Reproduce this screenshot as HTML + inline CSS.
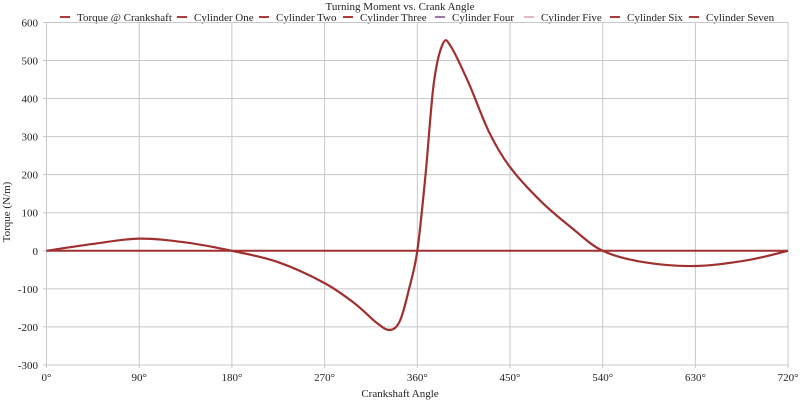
<!DOCTYPE html>
<html><head><meta charset="utf-8"><style>
body{margin:0;background:#fff;}
svg text{font-family:"Liberation Serif",serif;fill:#222;}
</style></head><body>
<svg id="s" width="800" height="400" viewBox="0 0 800 400" xmlns="http://www.w3.org/2000/svg">
<text x="400" y="10" font-size="11" text-anchor="middle">Turning Moment vs. Crank Angle</text>
<g font-size="11">
<line x1="60" y1="17" x2="70" y2="17" stroke="#b03a3a" stroke-width="2"/><text x="77" y="21">Torque @ Crankshaft</text>
<line x1="177" y1="17" x2="187" y2="17" stroke="#b03a3a" stroke-width="2"/><text x="194" y="21">Cylinder One</text>
<line x1="259" y1="17" x2="269" y2="17" stroke="#b03a3a" stroke-width="2"/><text x="276" y="21">Cylinder Two</text>
<line x1="343" y1="17" x2="353" y2="17" stroke="#b03a3a" stroke-width="2"/><text x="360" y="21">Cylinder Three</text>
<line x1="435" y1="17" x2="445" y2="17" stroke="#9a7aa8" stroke-width="2"/><text x="452" y="21">Cylinder Four</text>
<line x1="524" y1="17" x2="534" y2="17" stroke="#e0b8c0" stroke-width="2"/><text x="541" y="21">Cylinder Five</text>
<line x1="610" y1="17" x2="620" y2="17" stroke="#b03a3a" stroke-width="2"/><text x="627" y="21">Cylinder Six</text>
<line x1="689" y1="17" x2="699" y2="17" stroke="#b03a3a" stroke-width="2"/><text x="706" y="21">Cylinder Seven</text>
</g>
<g id="grid" stroke="#c8c8c8" stroke-width="1"></g>
<g id="lab" font-size="11"></g>
<text x="400" y="397" font-size="11" text-anchor="middle">Crankshaft Angle</text>
<text transform="translate(10,212) rotate(-90)" font-size="11" text-anchor="middle">Torque (N/m)</text>
<line x1="46.5" y1="250.8" x2="788" y2="250.8" stroke="#a03030" stroke-width="2"/>
<path id="c" fill="none" stroke="#a03030" stroke-width="2.2"/>
</svg>
<script>
var X=a=>46.5+a*1.03,Y=v=>250.8-v*0.3806,g=document.getElementById('grid'),l=document.getElementById('lab');
var gh='',lh='';
for(var a=0;a<=720;a+=90){gh+='<line x1="'+X(a)+'" y1="22.5" x2="'+X(a)+'" y2="368"/>';lh+='<text x="'+X(a)+'" y="381" text-anchor="middle">'+a+'°</text>';}
for(var v=-300;v<=600;v+=100){gh+='<line x1="43" y1="'+Y(v)+'" x2="788" y2="'+Y(v)+'"/>';lh+='<text x="38" y="'+(Y(v)+4)+'" text-anchor="end">'+v+'</text>';}
g.innerHTML=gh;l.innerHTML=lh;
var p=[[0,0],[45,18],[90,32],[135,22],[180,0],[225,-30],[270,-85],[300,-140],[320,-188],[333,-208],[343,-185],[352,-100],[360,0],[368,200],[376,440],[385,545],[393,535],[410,440],[430,310],[450,220],[480,130],[510,60],[540,0],[580,-30],[630,-40],[680,-25],[720,0]];
var d='M'+X(0)+','+Y(0);
for(var i=0;i<p.length-1;i++){var p0=p[Math.max(0,i-1)],p1=p[i],p2=p[i+1],p3=p[Math.min(p.length-1,i+2)];
var c1=[p1[0]+(p2[0]-p0[0])/6,p1[1]+(p2[1]-p0[1])/6],c2=[p2[0]-(p3[0]-p1[0])/6,p2[1]-(p3[1]-p1[1])/6];
d+=' C'+X(c1[0])+','+Y(c1[1])+' '+X(c2[0])+','+Y(c2[1])+' '+X(p2[0])+','+Y(p2[1]);}
document.getElementById('c').setAttribute('d',d);
</script>
</body></html>
